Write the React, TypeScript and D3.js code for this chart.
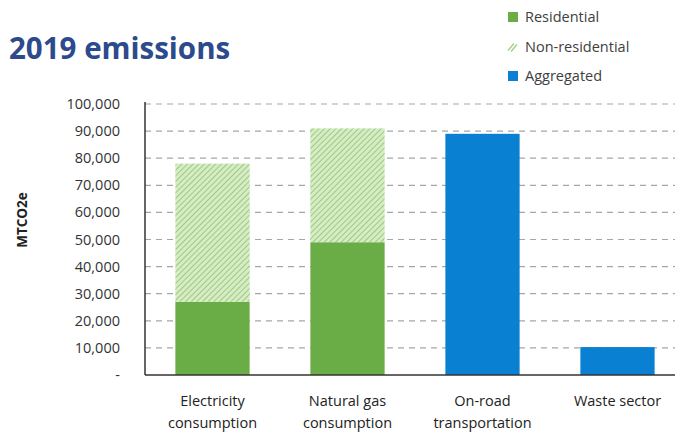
import React from "react";
import * as d3 from "d3";

const categories = [
  ["Electricity", "consumption"],
  ["Natural gas", "consumption"],
  ["On-road", "transportation"],
  ["Waste sector"],
];
const residential = [27000, 49000, 0, 0];
const nonResidential = [51000, 42000, 0, 0];
const aggregated = [0, 0, 89000, 10300];
const yTicks = [0, 10000, 20000, 30000, 40000, 50000, 60000, 70000, 80000, 90000, 100000];
const legendItems = ["Residential", "Non-residential", "Aggregated"];

const GREEN = "#6aad47";
const BLUE = "#0a80d2";
const FONT = "'Open Sans', 'Noto Sans', sans-serif";

export default function App() {
  const W = 675;
  const H = 432;
  const left = 145;
  const top = 104;
  const bottom = 375;
  const step = 135;

  const x = d3
    .scaleBand()
    .domain(categories.map((c, i) => String(i)))
    .range([left, left + step * categories.length])
    .paddingInner(0.45)
    .paddingOuter(0.225);
  const y = d3.scaleLinear().domain([0, 100000]).range([bottom, top]);
  const fmt = d3.format(",");

  return (
    <svg width={W} height={H} style={{ position: "absolute", left: 0, top: 0 }}>
      <defs>
        <pattern id="hatch" width="4" height="4" patternUnits="userSpaceOnUse" patternTransform="rotate(45)">
          <rect width="4" height="4" fill="#d6ebc6" />
          <line x1="0" y1="0" x2="0" y2="4" stroke="#8cc46c" strokeWidth="1.6" />
        </pattern>
      </defs>
      <rect width={W} height={H} fill="#fff" />

      <text x={9} y={59} fontFamily={FONT} fontWeight="bold" fontSize={29.5} fill="#2c4a8c">
        2019 emissions
      </text>

      {legendItems.map((name, i) => {
        const ly = 17 + i * 29.5;
        return (
          <g key={name}>
            {i === 1 ? (
              <g>
                <line x1={508} y1={ly + 4} x2={514} y2={ly - 3} stroke="#9ccf80" strokeWidth={1.3} />
                <line x1={511} y1={ly + 5} x2={517} y2={ly - 2} stroke="#9ccf80" strokeWidth={1.3} />
              </g>
            ) : (
              <rect x={508} y={ly - 5} width={10} height={10} fill={i === 0 ? GREEN : BLUE} />
            )}
            <text x={525} y={ly + 5} fontFamily={FONT} fontSize={14.5} fill="#404040">
              {name}
            </text>
          </g>
        );
      })}

      {yTicks.slice(1).map((t) => (
        <line
          key={t}
          x1={left}
          x2={W}
          y1={y(t)}
          y2={y(t)}
          stroke="#a6a6a6"
          strokeWidth={1.2}
          strokeDasharray="6,5"
        />
      ))}

      {categories.map((c, i) => {
        const bx = x(String(i))!;
        const bw = x.bandwidth();
        return (
          <g key={i}>
            {residential[i] > 0 && (
              <rect x={bx} y={y(residential[i])} width={bw} height={y(0) - y(residential[i])} fill={GREEN} />
            )}
            {nonResidential[i] > 0 && (
              <rect
                x={bx}
                y={y(residential[i] + nonResidential[i])}
                width={bw}
                height={y(residential[i]) - y(residential[i] + nonResidential[i])}
                fill="url(#hatch)"
              />
            )}
            {aggregated[i] > 0 && (
              <rect x={bx} y={y(aggregated[i])} width={bw} height={y(0) - y(aggregated[i])} fill={BLUE} />
            )}
          </g>
        );
      })}

      <line x1={left} x2={left} y1={top - 2} y2={bottom} stroke="#333" strokeWidth={1.5} />
      <line x1={left} x2={W} y1={bottom} y2={bottom} stroke="#333" strokeWidth={1.5} />

      {yTicks.map((t) => (
        <text
          key={t}
          x={120}
          y={y(t) + 5}
          textAnchor="end"
          fontFamily={FONT}
          fontSize={14.5}
          fill="#333"
        >
          {t === 0 ? "-" : fmt(t)}
        </text>
      ))}

      <text
        transform={`translate(27,220) rotate(-90)`}
        textAnchor="middle"
        fontFamily={FONT}
        fontWeight="bold"
        fontSize={13.5}
        fill="#222"
      >
        MTCO2e
      </text>

      {categories.map((lines, i) => (
        <text
          key={i}
          x={x(String(i))! + x.bandwidth() / 2}
          y={406}
          textAnchor="middle"
          fontFamily={FONT}
          fontSize={14.5}
          fill="#222"
        >
          {lines.map((l, j) => (
            <tspan key={j} x={x(String(i))! + x.bandwidth() / 2} dy={j === 0 ? 0 : 22}>
              {l}
            </tspan>
          ))}
        </text>
      ))}
    </svg>
  );
}
